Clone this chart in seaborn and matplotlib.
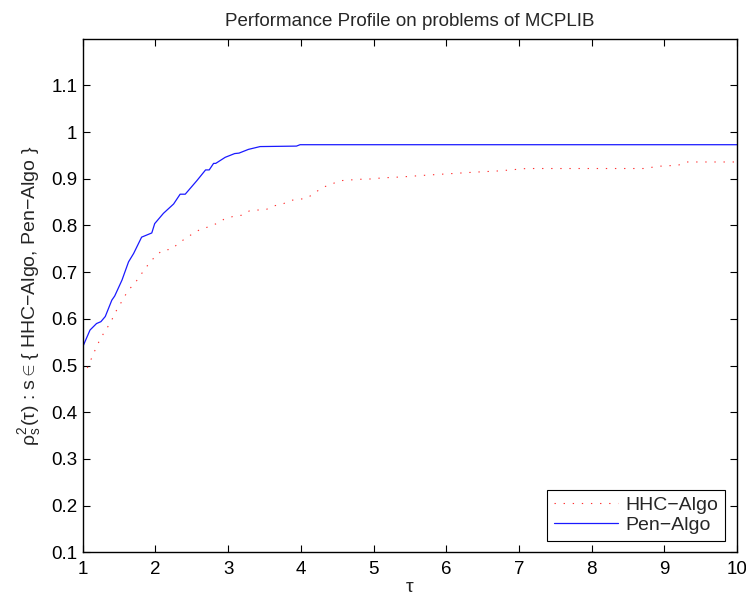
import pandas as pd
import matplotlib
matplotlib.use('Agg')
import matplotlib.pyplot as plt
import seaborn as sns

# performance profile
tau_pen = [1.0, 1.10, 1.19, 1.25, 1.31, 1.40, 1.44, 1.54, 1.63, 1.70, 1.81, 1.95, 1.99,
           2.11, 2.25, 2.34, 2.41, 2.57, 2.69, 2.74, 2.80, 2.83, 2.96, 3.09, 3.15, 3.28,
           3.44, 3.94, 3.99, 10.0]
rho_pen = [0.540, 0.576, 0.590, 0.594, 0.605, 0.640, 0.649, 0.683, 0.722, 0.740, 0.775,
           0.784, 0.804, 0.826, 0.846, 0.867, 0.867, 0.896, 0.919, 0.919, 0.933, 0.933,
           0.946, 0.954, 0.955, 0.963, 0.969, 0.970, 0.973, 0.973]

tau_hhc = [1.0, 1.05, 1.15, 1.20, 1.26, 1.32, 1.39, 1.44, 1.50, 1.56, 1.63, 1.71, 1.78,
           1.85, 1.93, 2.01, 2.10, 2.22, 2.32, 2.41, 2.51, 2.62, 2.73, 2.84, 2.94, 3.06,
           3.19, 3.29, 3.40, 3.52, 3.63, 3.75, 3.87, 3.99, 4.10, 4.21, 4.31, 4.43, 4.54,
           4.65, 4.79, 4.91, 5.13, 5.39, 5.75, 6.37, 6.74, 7.10, 8.71, 8.94, 9.19, 9.31,
           10.0]
rho_hhc = [0.478, 0.490, 0.526, 0.544, 0.562, 0.577, 0.594, 0.612, 0.627, 0.644, 0.662,
           0.675, 0.690, 0.706, 0.722, 0.736, 0.747, 0.749, 0.762, 0.772, 0.782, 0.792,
           0.797, 0.804, 0.813, 0.819, 0.822, 0.831, 0.833, 0.834, 0.842, 0.846, 0.854,
           0.856, 0.860, 0.872, 0.882, 0.889, 0.896, 0.897, 0.899, 0.899, 0.902, 0.904,
           0.908, 0.914, 0.917, 0.922, 0.922, 0.927, 0.929, 0.936, 0.936]

sns.set_style('ticks')
plt.rcParams['font.family'] = ['Liberation Sans', 'DejaVu Sans']
plt.rcParams['mathtext.fontset'] = 'custom'
plt.rcParams['mathtext.rm'] = 'Liberation Sans'
plt.rcParams['mathtext.it'] = 'Liberation Sans'
plt.rcParams['mathtext.bf'] = 'Liberation Sans'

hhc = pd.DataFrame({'tau': tau_hhc, 'rho': rho_hhc})
pen = pd.DataFrame({'tau': tau_pen, 'rho': rho_pen})

fig = plt.figure(figsize=(7.46, 6.05), dpi=100)
ax = fig.add_axes([0.1109, 0.0871, 0.8770, 0.8489])

sns.lineplot(data=hhc, x='tau', y='rho', ax=ax, color='#ff3030', linewidth=0.8,
             linestyle=(0, (1.2, 7)), estimator=None, label='HHC\u2212Algo')
sns.lineplot(data=pen, x='tau', y='rho', ax=ax, color='#1a1aff', linewidth=0.9,
             estimator=None, label='Pen\u2212Algo')

ax.set_xlim(1, 10)
ax.set_ylim(0.1, 1.2)
ax.set_xticks(range(1, 11))
ax.set_yticks([0.1, 0.2, 0.3, 0.4, 0.5, 0.6, 0.7, 0.8, 0.9, 1.0, 1.1])
ax.set_yticklabels(['0.1', '0.2', '0.3', '0.4', '0.5', '0.6', '0.7', '0.8', '0.9', '1', '1.1'])
ax.tick_params(direction='in', length=5, width=0.8, top=True, right=True,
               labelsize=13.5, colors='black')
ax.tick_params(axis='x', pad=6)
ax.tick_params(axis='y', pad=4)
for s in ax.spines.values():
    s.set_visible(True)
    s.set_color('black')
    s.set_linewidth(1.0)

ax.set_title('Performance Profile on problems of MCPLIB', fontsize=13.5, pad=9)
ax.set_xlabel(r'$\tau$', fontsize=14, labelpad=1)
ax.set_ylabel(r'$\rho_s^2(\tau)$ : s$\in${ HHC' + '\u2212' + 'Algo, Pen' + '\u2212' + 'Algo }',
              fontsize=14, labelpad=6)

leg = ax.legend(loc='lower right', fontsize=14, fancybox=False, edgecolor='black',
                framealpha=1, handlelength=3.3, handletextpad=0.4, borderaxespad=0.6,
                labelspacing=0.1, borderpad=0.35)
leg.get_frame().set_linewidth(0.8)

fig.savefig('out.png', dpi=100)
